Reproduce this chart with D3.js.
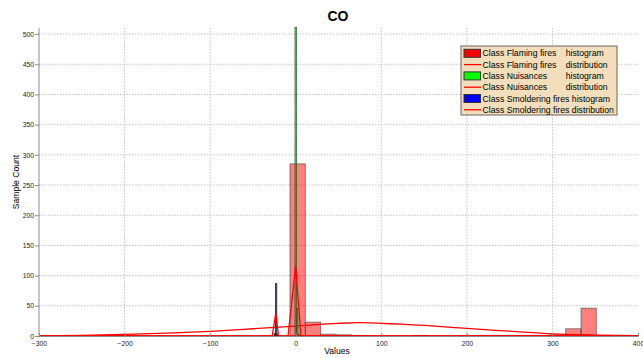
<!DOCTYPE html>
<html>
<head>
<meta charset="utf-8">
<script src="https://cdn.jsdelivr.net/npm/d3@7"></script>
<style>
  body { margin: 0; background: #fff; }
  svg { display: block; font-family: "Liberation Sans", Arial, sans-serif; }
</style>
</head>
<body>
<div id="chart"></div>
<script>
// tick labels
const xTicks = [-300, -200, -100, 0, 100, 200, 300, 400];
const yTicks = [0, 50, 100, 150, 200, 250, 300, 350, 400, 450, 500];

// Flaming fires histogram: first bin edge, bin width, counts
const flamingStart = -221.5;
const flamingWidth = 17.9;
const flamingCounts = [1, 1, 0, 0, 0, 0, 0, 0, 0, 0, 0, 0,
  285, 23, 3, 2, 1, 0, 0, 0, 1, 0, 0, 0, 1, 1, 1, 1, 1, 2, 12, 46, 1];

// Nuisances histogram
const nuisStart = -0.8;
const nuisWidth = 1.6;
const nuisCounts = [511, 46, 3];

// Smoldering fires histogram
const smolStart = -25;
const smolWidth = 1.4;
const smolCounts = [4, 87, 3];

// fitted distributions
const flamingDistX = [-300, -250, -200, -150, -100, -50, 0, 50, 75, 100, 150, 200, 250, 300, 350, 400];
const flamingDistY = [0.3, 1.0, 2.6, 4.8, 7.8, 12, 16.5, 21, 22, 21, 17.5, 12.5, 8, 3.5, 1.5, 0.5];
const nuisDistX = [-300, -9, 0, 6, 400];
const nuisDistY = [0, 0, 116, 0, 0];
const smolDistX = [-300, -27.5, -23.4, -20, 400];
const smolDistY = [0, 0, 37, 0, 0];

const legendNames = ["Class Flaming fires", "Class Flaming fires", "Class Nuisances",
  "Class Nuisances", "Class Smoldering fires", "Class Smoldering fires"];
const legendKinds = ["histogram", "distribution", "histogram", "distribution", "histogram", "distribution"];

const width = 643, height = 358;
const svg = d3.select("#chart").append("svg")
  .attr("width", width)
  .attr("height", height);

const x = d3.scaleLinear().domain([-300, 400]).range([39, 638]);
const y = d3.scaleLinear().domain([0, 510]).range([336, 28]);

// grid
svg.append("g").selectAll("line")
  .data(yTicks.slice(1))
  .enter().append("line")
  .attr("x1", x(-300)).attr("x2", x(400))
  .attr("y1", d => y(d)).attr("y2", d => y(d))
  .attr("stroke", "#c4c4c4").attr("stroke-dasharray", "1.5,1.5");
svg.append("g").selectAll("line")
  .data(xTicks.slice(1, -1))
  .enter().append("line")
  .attr("x1", d => x(d)).attr("x2", d => x(d))
  .attr("y1", y(510)).attr("y2", y(0))
  .attr("stroke", "#c4c4c4").attr("stroke-dasharray", "1.5,1.5");

function bars(counts, start, w, fill, edge, edgeOpacity) {
  svg.append("g").selectAll("rect")
    .data(counts.map((c, i) => ({ x0: start + i * w, x1: start + (i + 1) * w, c: c })).filter(d => d.c > 0))
    .enter().append("rect")
    .attr("x", d => x(d.x0))
    .attr("width", d => x(d.x1) - x(d.x0))
    .attr("y", d => y(d.c))
    .attr("height", d => y(0) - y(d.c))
    .attr("fill", fill)
    .attr("fill-opacity", 0.5)
    .attr("stroke", edge)
    .attr("stroke-opacity", edgeOpacity)
    .attr("stroke-width", 1);
}

function curve(xs, ys, smooth) {
  const line = d3.line()
    .x(d => x(d[0]))
    .y(d => y(d[1]))
    .curve(smooth ? d3.curveMonotoneX : d3.curveLinear);
  svg.append("path")
    .attr("d", line(xs.map((v, i) => [v, ys[i]])))
    .attr("fill", "none")
    .attr("stroke", "#ff0000")
    .attr("stroke-width", 1.3);
}

bars(flamingCounts, flamingStart, flamingWidth, "#ff0000", "#333", 0.55);
curve(flamingDistX, flamingDistY, true);
bars(nuisCounts, nuisStart, nuisWidth, "#00ff00", "#1e5a1e", 0.8);
curve(nuisDistX, nuisDistY, false);
bars(smolCounts, smolStart, smolWidth, "#0000ff", "#222", 0.85);
curve(smolDistX, smolDistY, false);

// axes
const yAxis = svg.append("g")
  .attr("transform", "translate(" + x(-300) + ",0)")
  .call(d3.axisLeft(y).tickValues(yTicks).tickSize(4).tickPadding(1));
const xAxis = svg.append("g")
  .attr("transform", "translate(0," + y(0) + ")")
  .call(d3.axisBottom(x).tickValues(xTicks).tickSize(-3).tickPadding(5));
[yAxis, xAxis].forEach(a => {
  a.select(".domain").attr("stroke", "#8c8c8c");
  a.selectAll(".tick line").attr("stroke", "#8c8c8c");
  a.selectAll("text").attr("fill", "#222").style("font-size", "6.8px");
});
yAxis.select(".domain").attr("d", "M0," + y(510) + "V" + y(0));

// titles
svg.append("text")
  .attr("x", 338).attr("y", 20.5)
  .attr("text-anchor", "middle")
  .style("font-size", "14px").style("font-weight", "bold")
  .text("CO");
svg.append("text")
  .attr("x", 337).attr("y", 354)
  .attr("text-anchor", "middle")
  .style("font-size", "8.6px")
  .text("Values");
svg.append("text")
  .attr("transform", "translate(18.5,182)rotate(-90)")
  .attr("text-anchor", "middle")
  .style("font-size", "8.6px")
  .text("Sample Count");

// legend
const legend = svg.append("g");
legend.append("rect")
  .attr("x", 461).attr("y", 46)
  .attr("width", 156).attr("height", 69)
  .attr("fill", "#f2deba")
  .attr("stroke", "#666");
const swatchColors = ["#ff0000", "#ff0000", "#00ff00", "#ff0000", "#0000ff", "#ff0000"];
legendNames.forEach((name, i) => {
  const cy = 53.3 + i * 11.3;
  if (legendKinds[i] == "histogram") {
    legend.append("rect")
      .attr("x", 464).attr("y", cy - 4)
      .attr("width", 16.5).attr("height", 8)
      .attr("fill", swatchColors[i]).attr("stroke", "#333");
  } else {
    legend.append("line")
      .attr("x1", 464).attr("x2", 481)
      .attr("y1", cy).attr("y2", cy)
      .attr("stroke", swatchColors[i]).attr("stroke-width", 1.3);
  }
  const t = legend.append("text")
    .attr("x", 482.5).attr("y", cy + 3)
    .style("font-size", "8.7px");
  if (i < 4) {
    t.text(name);
    legend.append("text")
      .attr("x", 565.7).attr("y", cy + 3)
      .style("font-size", "8.7px")
      .text(legendKinds[i]);
  } else {
    t.text(name + " " + legendKinds[i]);
  }
});
</script>
</body>
</html>
